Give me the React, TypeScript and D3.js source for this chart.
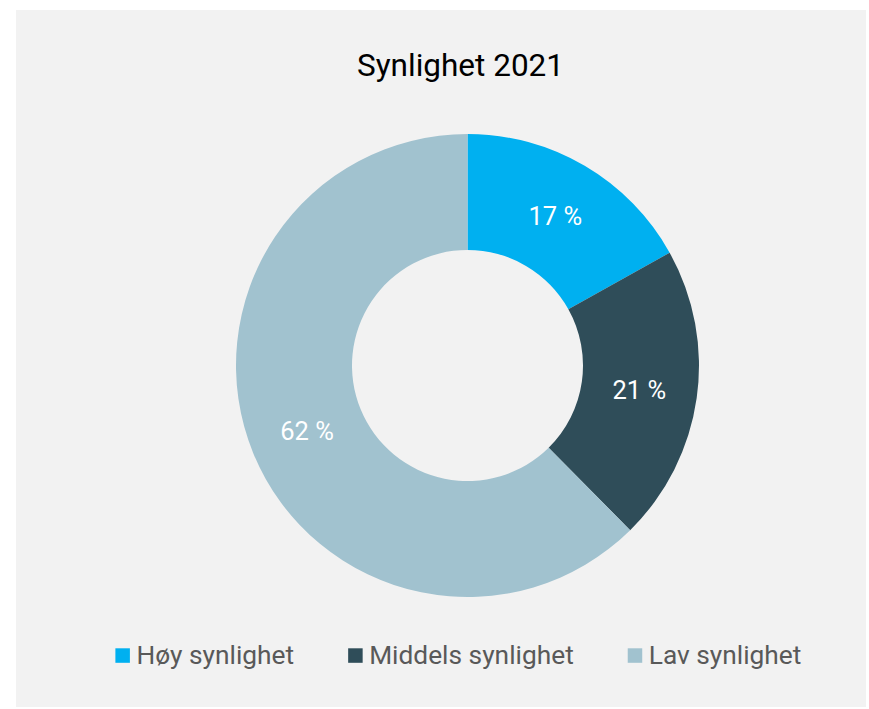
import React, { useEffect, useRef } from "react";
import * as d3 from "d3";

const categories = ["Høy synlighet", "Middels synlighet", "Lav synlighet"];
const values = [16.9, 20.7, 62.4];
const colors = ["#00b0f0", "#2f4d59", "#a1c2cf"];
const title = "Synlighet 2021";

const W = 869;
const H = 709;

export default function App() {
  const ref = useRef<SVGSVGElement | null>(null);

  useEffect(() => {
    const svg = d3.select(ref.current);
    svg.selectAll("*").remove();

    svg
      .append("rect")
      .attr("x", 16)
      .attr("y", 10)
      .attr("width", 850)
      .attr("height", 697)
      .attr("fill", "#f2f2f2");

    svg
      .append("text")
      .attr("x", 460.5)
      .attr("y", 76)
      .attr("text-anchor", "middle")
      .attr("font-family", "Roboto, sans-serif")
      .attr("font-size", 31.5)
      .attr("fill", "#000")
      .text(title);

    const cx = 467.5;
    const cy = 365.5;
    const outerR = 231.5;
    const innerR = 115.5;

    const data = categories.map((c, i) => ({ name: c, value: values[i], color: colors[i] }));
    const pie = d3
      .pie<any>()
      .value((d) => d.value)
      .sort(null);
    const arc = d3.arc<any>().innerRadius(innerR).outerRadius(outerR);
    const arcs = pie(data);

    const g = svg.append("g").attr("transform", `translate(${cx},${cy})`);
    g.selectAll("path")
      .data(arcs)
      .join("path")
      .attr("d", arc as any)
      .attr("fill", (d: any) => d.data.color);

    g.selectAll("text")
      .data(arcs)
      .join("text")
      .attr("transform", (d: any) => {
        const [x, y] = arc.centroid(d);
        return `translate(${x},${y})`;
      })
      .attr("text-anchor", "middle")
      .attr("dy", "0.35em")
      .attr("font-family", "Roboto, sans-serif")
      .attr("font-size", 25.5)
      .attr("fill", "#ffffff")
      .text((d: any) => `${Math.round(d.data.value)} %`);

    // legend
    const sq = 14.5;
    const sqGap = 6.5;
    const itemGap = 54;
    const legendCenter = 458.4;
    const baseline = 664;
    const lg = svg.append("g");
    const items = lg
      .selectAll("g")
      .data(data)
      .join("g");
    items
      .append("rect")
      .attr("width", sq)
      .attr("height", sq)
      .attr("y", baseline - 15.7)
      .attr("fill", (d: any) => d.color);
    items
      .append("text")
      .attr("x", sq + sqGap)
      .attr("y", baseline)
      .attr("font-family", "Roboto, sans-serif")
      .attr("font-size", 26.3)
      .attr("fill", "#595959")
      .text((d: any) => d.name);

    const widths: number[] = [];
    items.each(function () {
      const t = d3.select(this).select("text").node() as SVGTextElement;
      widths.push(sq + sqGap + t.getComputedTextLength());
    });
    const total = d3.sum(widths) + itemGap * (widths.length - 1);
    let x = legendCenter - total / 2;
    items.each(function (_d, i) {
      d3.select(this).attr("transform", `translate(${x},0)`);
      x += widths[i] + itemGap;
    });
  }, []);

  return (
    <svg
      ref={ref}
      width={W}
      height={H}
      style={{ position: "absolute", left: 0, top: 0, background: "#ffffff" }}
    />
  );
}
